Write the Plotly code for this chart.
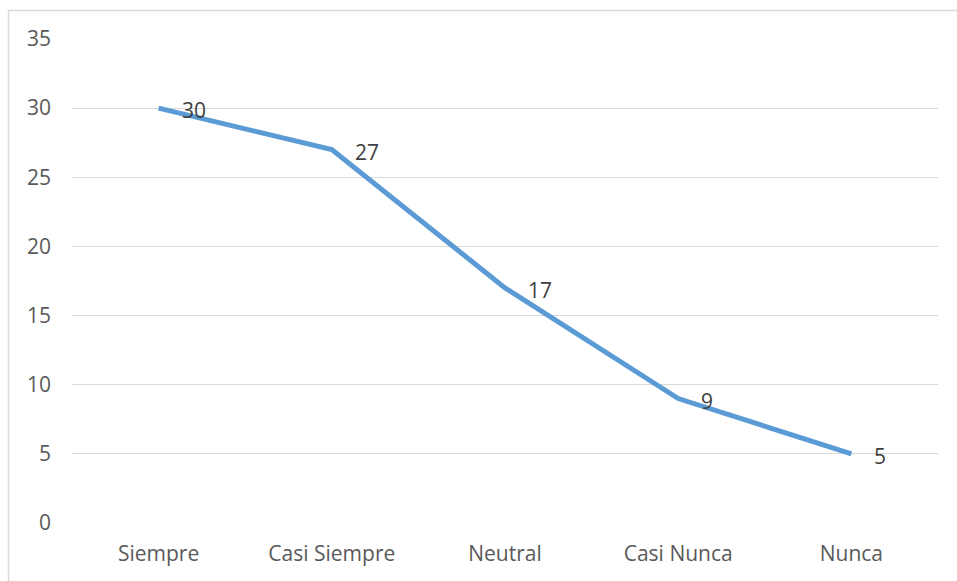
import plotly.graph_objects as go

categories = ["Siempre", "Casi Siempre", "Neutral", "Casi Nunca", "Nunca"]
values = [30, 27, 17, 9, 5]
y_ticks = [0, 5, 10, 15, 20, 25, 30, 35]

W, H = 957, 581
L, T = 72, 39
R = W - 938
B = H - 523
pw, ph = W - L - R, H - T - B

FONT = "Open Sans"
FS = 21

fig = go.Figure()
fig.add_trace(go.Scatter(
    x=categories, y=values, mode="lines",
    line=dict(color="#5B9BD5", width=5),
    hoverinfo="skip",
))

for c, v in zip(categories, values):
    fig.add_annotation(x=c, y=v, text=str(v), showarrow=False,
                       xanchor="left", yanchor="middle", xshift=21, yshift=-2,
                       font=dict(family=FONT, size=FS, color="#404040"))

def px_x(px):
    return (px - L) / pw

def px_y(py):
    return (H - B - py) / ph

fig.add_shape(type="line", xref="paper", yref="paper",
              x0=px_x(8.5), x1=px_x(8.5), y0=px_y(10.5), y1=px_y(581),
              line=dict(color="#d9d9d9", width=1.5))
fig.add_shape(type="line", xref="paper", yref="paper",
              x0=px_x(8.5), x1=px_x(957), y0=px_y(10.5), y1=px_y(10.5),
              line=dict(color="#d9d9d9", width=1.5))

fig.update_layout(
    width=W, height=H,
    margin=dict(l=L, r=R, t=T, b=B, pad=0),
    paper_bgcolor="white", plot_bgcolor="white",
    showlegend=False,
    font=dict(family=FONT, size=FS, color="#595959"),
    xaxis=dict(range=[-0.5, 4.5], showgrid=False, showline=False, zeroline=False,
               ticks="", ticklabelstandoff=16,
               tickfont=dict(family=FONT, size=FS, color="#595959")),
    yaxis=dict(range=[0, 35], tickvals=y_ticks, showgrid=True, gridcolor="#d9d9d9",
               gridwidth=1, zeroline=False, showline=False, ticks="",
               ticklabelstandoff=20,
               tickfont=dict(family=FONT, size=FS, color="#595959")),
)

fig.write_html(
    "out.html",
    config={"displayModeBar": False},
    post_script="document.body.style.margin='0';document.body.style.overflow='hidden';",
)
